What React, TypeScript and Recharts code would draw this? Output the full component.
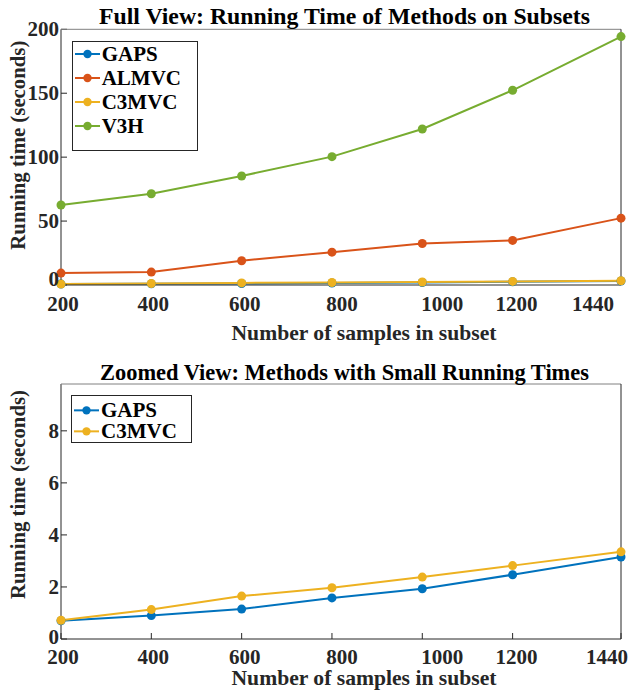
import React from 'react';
import { LineChart, Line, XAxis, YAxis, Legend } from 'recharts';

const samples = [200, 400, 600, 800, 1000, 1200, 1440];
const gapsTimes = [0.7, 0.9, 1.15, 1.58, 1.93, 2.47, 3.15];
const almvcTimes = [9.3, 10.1, 19.0, 25.7, 32.5, 34.9, 52.3];
const c3mvcTimes = [0.72, 1.13, 1.65, 1.97, 2.38, 2.82, 3.35];
const v3hTimes = [62.6, 71.4, 85.3, 100.4, 122.0, 152.3, 194.3];

const fullTicks = [0, 50, 100, 150, 200];
const zoomTicks = [0, 2, 4, 6, 8];
const legendOrder = ['GAPS', 'ALMVC', 'C3MVC', 'V3H'];

const COLORS = {
  GAPS: '#0072BD',
  ALMVC: '#D95319',
  C3MVC: '#EDB120',
  V3H: '#77AC30',
};

const FONT = '"Liberation Serif", "Times New Roman", serif';
const AXIS = '#262626';

const data = samples.map((n, i) => ({
  n,
  GAPS: gapsTimes[i],
  ALMVC: almvcTimes[i],
  C3MVC: c3mvcTimes[i],
  V3H: v3hTimes[i],
}));

// label nudges so the x tick labels sit like in the original figure
const makeXTick = (shift: number[]) => (props: any) => {
  const { x, y, payload, index } = props;
  return (
    <text
      x={x + (shift[index] || 0)}
      y={y}
      dy="0.34em"
      textAnchor="middle"
      fontFamily={FONT}
      fontWeight="bold"
      fontSize={21}
      fill={AXIS}
    >
      {payload.value}
    </text>
  );
};

const makeYTick = (zeroLift: number) => (props: any) => {
  const { x, y, payload } = props;
  return (
    <text
      x={x}
      y={payload.value === 0 ? y - zeroLift : y}
      dy="0.34em"
      textAnchor="end"
      fontFamily={FONT}
      fontWeight="bold"
      fontSize={21}
      fill={AXIS}
    >
      {payload.value}
    </text>
  );
};

const YTitle = (props: any) => {
  const vb = props.viewBox || {};
  const cy = vb.y + vb.height / 2 - props.lift;
  return (
    <text
      x={18}
      y={cy}
      dy="0.33em"
      transform={`rotate(-90, 18, ${cy})`}
      textAnchor="middle"
      textLength={209}
      lengthAdjust="spacingAndGlyphs"
      fontFamily={FONT}
      fontWeight="bold"
      fontSize={20}
      fill={AXIS}
    >
      Running time (seconds)
    </text>
  );
};

const XTitle = (props: any) => {
  const vb = props.viewBox || {};
  return (
    <text
      x={vb.x + vb.width / 2 + 23}
      y={vb.y + props.down}
      dy="0.33em"
      textAnchor="middle"
      textLength={265}
      lengthAdjust="spacingAndGlyphs"
      fontFamily={FONT}
      fontWeight="bold"
      fontSize={21}
      fill={AXIS}
    >
      Number of samples in subset
    </text>
  );
};

interface LegendBoxProps {
  payload?: Array<{ value: string; color: string }>;
  width: number;
  rowHeight: number;
  padTop: number;
  padBottom: number;
}

const LegendBox = ({ payload, width, rowHeight, padTop, padBottom }: LegendBoxProps) => {
  const items = [...(payload || [])].sort(
    (a, b) => legendOrder.indexOf(a.value) - legendOrder.indexOf(b.value)
  );
  return (
    <div
      style={{
        width,
        border: `1px solid ${AXIS}`,
        background: '#fff',
        paddingTop: padTop,
        paddingBottom: padBottom,
        boxSizing: 'border-box',
      }}
    >
      {items.map((entry) => (
        <div key={entry.value} style={{ display: 'flex', alignItems: 'center', height: rowHeight }}>
          <svg width={29} height={rowHeight} style={{ flexShrink: 0 }}>
            <line x1={2} x2={27} y1={rowHeight / 2} y2={rowHeight / 2} stroke={entry.color} strokeWidth={2} />
            <circle cx={14.5} cy={rowHeight / 2} r={4.2} fill={entry.color} />
          </svg>
          <span
            style={{
              fontFamily: FONT,
              fontWeight: 'bold',
              fontSize: 21,
              color: '#000',
              lineHeight: `${rowHeight}px`,
              whiteSpace: 'nowrap',
            }}
          >
            {entry.value}
          </span>
        </div>
      ))}
    </div>
  );
};

const boxAxes = (yDomain: number[], yTicks: number[]) => [
  <XAxis
    key="top"
    xAxisId="top"
    orientation="top"
    type="number"
    dataKey="n"
    domain={[200, 1440]}
    ticks={samples}
    interval={0}
    height={1}
    tick={false}
    tickSize={-6}
    stroke="#808080"
  />,
  <YAxis
    key="right"
    yAxisId="right"
    orientation="right"
    type="number"
    domain={yDomain}
    ticks={yTicks}
    interval={0}
    width={8}
    tick={false}
    tickSize={-6}
    stroke={AXIS}
  />,
];

const dotFor = (c: string) => ({ r: 4.5, fill: c, stroke: c, strokeWidth: 0 });

const FullView = () => (
  <LineChart width={629} height={345} data={data} margin={{ top: 28.3, right: 0, left: 0, bottom: 20 }}>
    <XAxis
      type="number"
      dataKey="n"
      domain={[200, 1440]}
      ticks={samples}
      interval={0}
      height={40}
      tickSize={-6}
      tickMargin={25}
      stroke={AXIS}
      tick={makeXTick([2, 2, 3, 10, 20, 4, -28])}
      label={<XTitle down={48} />}
    />
    <YAxis
      type="number"
      domain={[0, 200]}
      ticks={fullTicks}
      interval={0}
      width={61}
      tickSize={-6}
      tickMargin={8}
      stroke={AXIS}
      tick={makeYTick(6)}
      label={<YTitle lift={12} />}
    />
    {boxAxes([0, 200], fullTicks)}
    <Legend
      layout="vertical"
      align="center"
      verticalAlign="middle"
      wrapperStyle={{ left: 71.7, top: 40.7, width: 126 }}
      content={(p: any) => <LegendBox payload={p.payload} width={126} rowHeight={24} padTop={0.5} padBottom={12} />}
    />
    <Line dataKey="GAPS" stroke={COLORS.GAPS} strokeWidth={2} dot={dotFor(COLORS.GAPS)} isAnimationActive={false} />
    <Line dataKey="ALMVC" stroke={COLORS.ALMVC} strokeWidth={2} dot={dotFor(COLORS.ALMVC)} isAnimationActive={false} />
    <Line dataKey="C3MVC" stroke={COLORS.C3MVC} strokeWidth={2} dot={dotFor(COLORS.C3MVC)} isAnimationActive={false} />
    <Line dataKey="V3H" stroke={COLORS.V3H} strokeWidth={2} dot={dotFor(COLORS.V3H)} isAnimationActive={false} />
  </LineChart>
);

const ZoomedView = () => (
  <LineChart width={629} height={347} data={data} margin={{ top: 38, right: 0, left: 0, bottom: 20 }}>
    <XAxis
      type="number"
      dataKey="n"
      domain={[200, 1440]}
      ticks={samples}
      interval={0}
      height={33}
      tickSize={-6}
      tickMargin={24}
      stroke={AXIS}
      tick={makeXTick([2, 2, 3, 10, 20, 4, -14])}
      label={<XTitle down={39} />}
    />
    <YAxis
      type="number"
      domain={[0, 9.8]}
      ticks={zoomTicks}
      interval={0}
      width={61}
      tickSize={-6}
      tickMargin={8}
      stroke={AXIS}
      tick={makeYTick(2)}
      label={<YTitle lift={17} />}
    />
    {boxAxes([0, 9.8], zoomTicks)}
    <Legend
      layout="vertical"
      align="center"
      verticalAlign="middle"
      wrapperStyle={{ left: 71, top: 49.7, width: 121 }}
      content={(p: any) => <LegendBox payload={p.payload} width={121} rowHeight={20.7} padTop={4.5} padBottom={0} />}
    />
    <Line dataKey="GAPS" stroke={COLORS.GAPS} strokeWidth={2} dot={dotFor(COLORS.GAPS)} isAnimationActive={false} />
    <Line dataKey="C3MVC" stroke={COLORS.C3MVC} strokeWidth={2} dot={dotFor(COLORS.C3MVC)} isAnimationActive={false} />
  </LineChart>
);

const ChartTitle = ({ y, width, children }: { y: number; width: number; children: string }) => (
  <text
    x={344.5}
    y={y}
    textAnchor="middle"
    textLength={width}
    lengthAdjust="spacingAndGlyphs"
    fontFamily={FONT}
    fontWeight="bold"
    fontSize={23}
    fill="#000"
  >
    {children}
  </text>
);

export default function App() {
  return (
    <div style={{ position: 'absolute', left: 0, top: 0, width: 629, height: 692, background: '#fff' }}>
      <div style={{ position: 'absolute', left: 0, top: 0 }}>
        <FullView />
      </div>
      <div style={{ position: 'absolute', left: 0, top: 345 }}>
        <ZoomedView />
      </div>
      <svg
        width={629}
        height={692}
        style={{ position: 'absolute', left: 0, top: 0, pointerEvents: 'none' }}
      >
        <ChartTitle y={24} width={491}>Full View: Running Time of Methods on Subsets</ChartTitle>
        <ChartTitle y={380} width={489}>Zoomed View: Methods with Small Running Times</ChartTitle>
      </svg>
    </div>
  );
}
